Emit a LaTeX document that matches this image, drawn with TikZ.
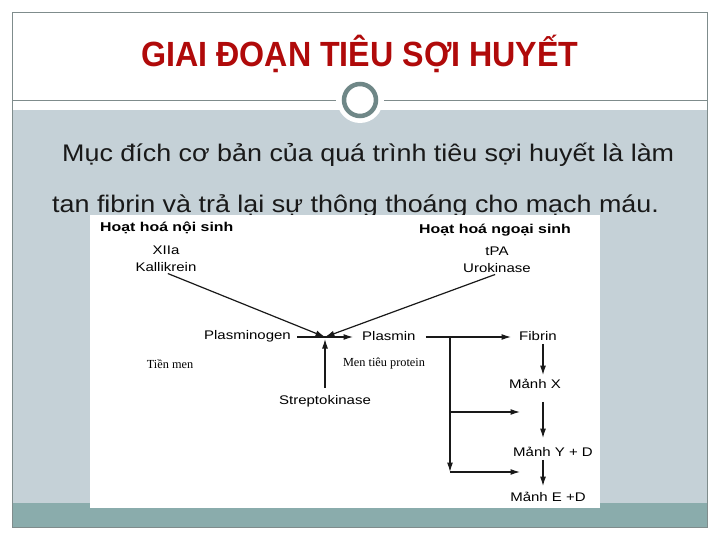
\documentclass[tikz,border=0pt]{standalone}
\usepackage{fontspec}
\setmainfont{Liberation Sans}
\newfontfamily\titlefont{Liberation Sans}[FakeStretch=0.92]
\newfontfamily\bodyfont{Liberation Sans}[FakeStretch=1.12]
\newfontfamily\diagfont{Liberation Sans}[FakeStretch=1.2]
\newfontfamily\hdrfont{Liberation Sans}[FakeStretch=1.24]
\newfontfamily\notefont{Liberation Serif}
\usetikzlibrary{positioning,arrows.meta}
\definecolor{titlered}{HTML}{B00A0A}
\definecolor{panelgray}{HTML}{C5D1D7}
\definecolor{bandteal}{HTML}{8AACAC}
\definecolor{framegray}{HTML}{7F8C8C}
\definecolor{ringgray}{HTML}{6F8787}
\tikzset{
  lbl/.style={font=\diagfont\fontsize{12.5}{14}\selectfont, inner sep=1pt},
  hdr/.style={lbl, font=\hdrfont\fontsize{12.8}{14}\selectfont\bfseries},
  note/.style={font=\notefont\fontsize{12.3}{14}\selectfont, inner sep=1pt},
  conn/.style={->, line width=1.2pt, black!90},
}
\begin{document}
\begin{tikzpicture}[x=1pt,y=-1pt,>={Latex[length=9.5pt,width=6pt]}]
  \useasboundingbox (0,0) rectangle (720,540);
  % slide background
  \fill[panelgray] (12,110) rectangle (707,503);
  \fill[bandteal] (12,503) rectangle (707,527);
  \draw[framegray] (12,12) rectangle (707,527);
  \draw[framegray] (12,100) -- (336,100) (384,100) -- (707,100);
  \fill[white] (360,100) circle (23pt);
  \draw[ringgray, line width=4.5pt] (360,100) circle (16pt);
  % title and text
  \node[font=\titlefont\fontsize{35}{35}\selectfont\bfseries, text=titlered, anchor=base] (title) at (360,67) {GIAI ĐOẠN TIÊU SỢI HUYẾT};
  \node[font=\bodyfont\fontsize{24}{24}\selectfont, text=black!90, anchor=base west, inner sep=0pt] (line1) at (62,162) {Mục đích cơ bản của quá trình tiêu sợi huyết là làm};
  \node[font=\bodyfont\fontsize{24}{24}\selectfont, text=black!90, anchor=base west, inner sep=0pt] (line2) at (52,212) {tan fibrin và trả lại sự thông thoáng cho mạch máu.};
  % diagram
  \fill[white] (90,215) rectangle (600,508);
  \node[hdr, anchor=west] (intr) at (99,228) {Hoạt hoá nội sinh};
  \node[lbl] (xiia) at (166,250) {XIIa};
  \node[lbl] (kall) at (166,267) {Kallikrein};
  \node[hdr, anchor=east] (extr) at (572,230) {Hoạt hoá ngoại sinh};
  \node[lbl] (tpa) at (497,251) {tPA};
  \node[lbl] (urok) at (497,268) {Urokinase};
  \node[lbl, anchor=east] (plg) at (292,336) {Plasminogen};
  \coordinate (junc) at (325,337);
  \node[lbl, anchor=west] (pls) at (361,336) {Plasmin};
  \node[lbl, anchor=west] (fib) at (518,336) {Fibrin};
  \node[lbl] (strep) at (325,401) {Streptokinase};
  \node[lbl] (mx) at (535,384) {Mảnh X};
  \node[lbl] (my) at (553,452) {Mảnh Y + D};
  \node[lbl] (me) at (548,497) {Mảnh E +D};
  \node[note] (tien) at (170,364) {Tiền men};
  \node[note] (menp) at (384,364) {Men tiêu protein};
  \coordinate (col) at (543,0);
  \coordinate (br) at (450,337);
  \coordinate (br1) at (450,412);
  \coordinate (br2) at (450,472);
  \coordinate (t1) at (520,412);
  \coordinate (t2) at (520,472);
  % connectors
  \draw[conn, shorten <=2pt] (kall.south) -- (junc);
  \draw[conn, shorten <=2pt] (urok.south) -- (junc);
  \draw[conn, shorten <=5pt, shorten >=8pt] (plg.east |- junc) -- (pls.west |- junc);
  \draw[conn, shorten <=6pt, shorten >=2pt] (strep.north) -- (junc);
  \draw[conn, shorten <=9pt, shorten >=7pt] (pls.east |- junc) -- (fib.west |- junc);
  \draw[conn] (br) -- (br2);
  \draw[conn] (br1) -- (t1);
  \draw[conn] (br2) -- (t2);
  \draw[conn, shorten <=2pt, shorten >=3pt] (fib.south -| col) -- (mx.north -| col);
  \draw[conn, shorten <=12pt, shorten >=8pt] (mx.south -| col) -- (my.north -| col);
  \draw[conn, shorten <=2pt, shorten >=5pt] (my.south -| col) -- (me.north -| col);
\end{tikzpicture}
\end{document}
